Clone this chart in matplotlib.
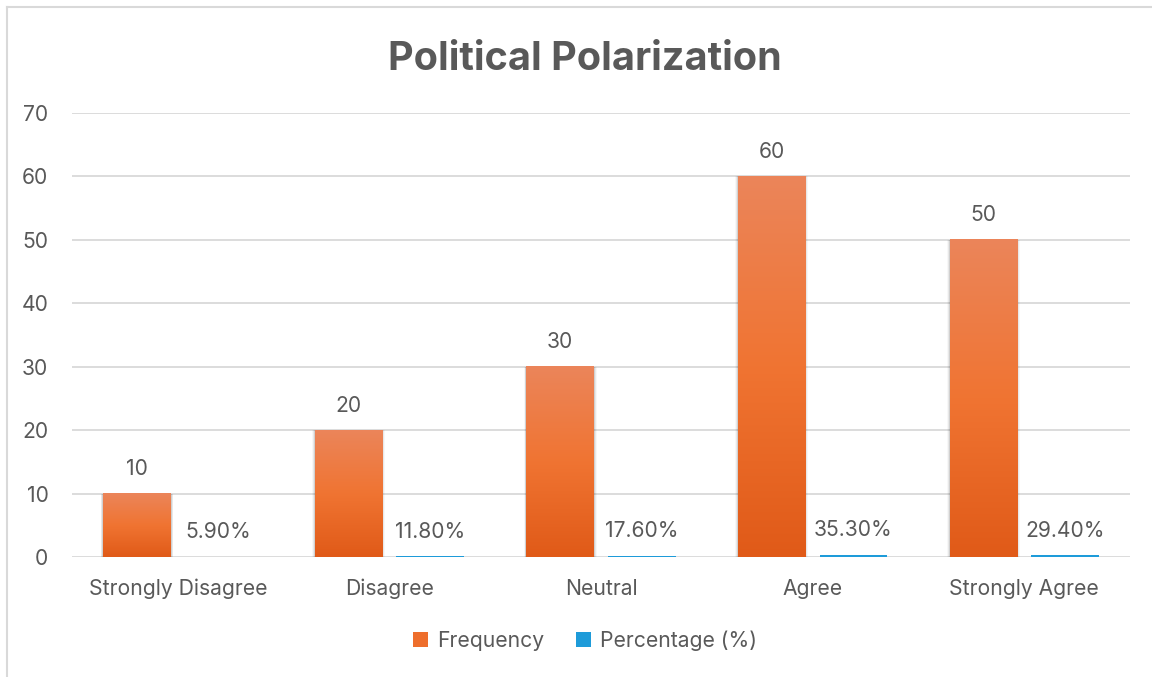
import matplotlib
matplotlib.use("Agg")
import matplotlib.pyplot as plt
import numpy as np
from matplotlib.colors import LinearSegmentedColormap
from matplotlib.patches import Rectangle
from matplotlib.lines import Line2D

categories = ["Strongly Disagree", "Disagree", "Neutral", "Agree", "Strongly Agree"]
frequency = [10, 20, 30, 60, 50]
percentage = [0.059, 0.118, 0.176, 0.353, 0.294]
percentage_labels = ["5.90%", "11.80%", "17.60%", "35.30%", "29.40%"]
y_ticks = [0, 10, 20, 30, 40, 50, 60, 70]

plt.rcParams["font.family"] = ["Inter", "DejaVu Sans"]
TEXT = "#595959"
GRID = "#D9D9D9"
FS = 15.2

fig = plt.figure(figsize=(11.52, 6.77), dpi=100)
ax = fig.add_axes([72 / 1152, 1 - 557 / 677, (1130 - 72) / 1152, (557 - 113) / 677])

orange_cmap = LinearSegmentedColormap.from_list("orange", ["#E05A18", "#F07432", "#EB855A"])
grad = np.linspace(0, 1, 256).reshape(-1, 1)

x = np.arange(len(categories))
width = 0.32
offset = 0.193

ax.set_xlim(-0.5, len(categories) - 0.5)
ax.set_ylim(0, 70)


def gradient_bar(xc, h, cmap):
    x0, x1 = xc - width / 2, xc + width / 2
    # soft shadow around the bar
    for k, a in enumerate([0.10, 0.06, 0.03]):
        d = 0.004 * (k + 1)
        ax.add_patch(Rectangle((x0 - d, -0.3 * (k + 1)), width + 2 * d, h + 0.3 * (k + 1),
                               facecolor="#000000", alpha=a, edgecolor="none", zorder=2))
    ax.imshow(grad, extent=(x0, x1, 0, h), origin="lower", aspect="auto",
              cmap=cmap, zorder=3, interpolation="bicubic")


for i in range(len(categories)):
    gradient_bar(x[i] - offset, frequency[i], orange_cmap)
    ax.bar(x[i] + offset, percentage[i], width=width, color="#1E9BD9", zorder=3, linewidth=0)
    ax.text(x[i] - offset, frequency[i] + 2.3, str(frequency[i]), ha="center", va="bottom",
            fontsize=FS, color=TEXT)
    ax.text(x[i] + offset, percentage[i] + 2.3, percentage_labels[i], ha="center", va="bottom",
            fontsize=FS, color=TEXT)

ax.set_xlim(-0.5, len(categories) - 0.5)
ax.set_ylim(0, 70)
ax.set_yticks(y_ticks)
ax.set_xticks(x)
ax.set_xticklabels(categories)
ax.yaxis.grid(True, color=GRID, linewidth=1.3, zorder=0)
ax.set_axisbelow(True)
ax.tick_params(axis="both", length=0, labelsize=FS, labelcolor=TEXT)
ax.tick_params(axis="y", pad=17)
ax.tick_params(axis="x", pad=15.5)
for s in ax.spines.values():
    s.set_visible(False)

fig.text(0.508, 1 - 59 / 677, "Political Polarization", ha="center", va="center",
         fontsize=28.5, fontweight="bold", color=TEXT)

# legend
handles = [Rectangle((0, 0), 1, 1, facecolor="#EE6E2C"),
           Rectangle((0, 0), 1, 1, facecolor="#1E9BD9")]
fig.legend(handles, ["Frequency", "Percentage (%)"], loc="center",
           bbox_to_anchor=(0.508, 1 - 641 / 677), ncol=2, frameon=False,
           fontsize=FS, labelcolor=TEXT, handlelength=0.7, handleheight=0.7,
           handletextpad=0.45, columnspacing=1.5)

# chart area border
fig.add_artist(Line2D([7 / 1152, 7 / 1152], [0, 1 - 7 / 677], color=GRID, lw=1.5))
fig.add_artist(Line2D([7 / 1152, 1], [1 - 7 / 677, 1 - 7 / 677], color=GRID, lw=1.5))

fig.savefig("out.png", dpi=100, facecolor="white")
